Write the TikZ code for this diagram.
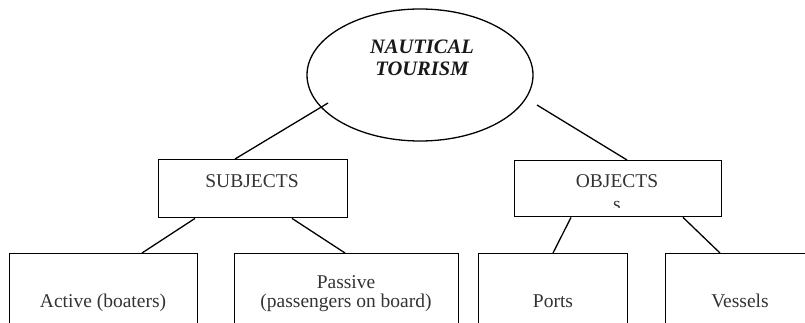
\documentclass[tikz,border=0pt]{standalone}
\usepackage{fontspec}
\setmainfont{Liberation Serif}
\usetikzlibrary{shapes.geometric,calc}
\begin{document}
\begin{tikzpicture}[x=1pt,y=-1pt,
  box/.style={draw=black,line width=1.4pt,rectangle,inner sep=0pt,anchor=north west},
  link/.style={draw=black,line width=1.3pt},
  txt/.style={inner sep=0pt,anchor=base,text=black!80,font=\fontsize{19.5}{22}\selectfont},
  head/.style={inner sep=0pt,anchor=base,text=black!90,font=\fontsize{20.5}{22}\selectfont\bfseries\itshape}]
\useasboundingbox (0,0) rectangle (805,323);
\clip (0,0) rectangle (805,323);
% root ellipse
\node[draw=black,line width=1.3pt,ellipse,minimum width=226pt,minimum height=132pt,inner sep=0pt] (root) at (420,75) {};
\node[head] (rootA) at (422,54) {NAUTICAL};
\node[head] (rootB) at (422,76) {TOURISM};
% second level
\node[box,minimum width=189pt,minimum height=58pt] (subj) at (158,159) {};
\node[txt] (subjT) at (252,187) {SUBJECTS};
\node[box,minimum width=207pt,minimum height=56pt] (obj) at (514,160) {};
\node[txt] (objT) at (617,187) {OBJECTS};
\begin{scope}
  \clip (514,160) rectangle (721,207);
  \node[txt] (objS) at (617,211) {s};
\end{scope}
% third level (boxes run past the lower edge)
\node[box,minimum width=188pt,minimum height=100pt] (act) at (9,253) {};
\node[txt] (actT) at (103,307) {Active (boaters)};
\node[box,minimum width=224pt,minimum height=100pt] (pas) at (234,253) {};
\node[txt] (pasT1) at (346,288) {Passive};
\node[txt] (pasT2) at (346,307) {(passengers on board)};
\node[box,minimum width=149pt,minimum height=100pt] (port) at (478,253) {};
\node[txt] (portT) at (553,307) {Ports};
\node[box,minimum width=160pt,minimum height=100pt] (ves) at (665,253) {};
\node[txt] (vesT) at (740,307) {Vessels};
% connectors
\coordinate (rl) at (328,103);
\coordinate (rr) at (537,105);
\draw[link] (rl) -- ($(subj.north west)+(77,0)$);
\draw[link] (rr) -- ($(obj.north west)+(113,0)$);
\draw[link] ($(subj.south west)+(37,0)$) -- ($(act.north west)+(133,0)$);
\draw[link] ($(subj.south west)+(134,0)$) -- ($(pas.north west)+(111,0)$);
\draw[link] ($(obj.south west)+(57,0)$) -- ($(port.north west)+(75,0)$);
\draw[link] ($(obj.south west)+(169,0)$) -- ($(ves.north west)+(55,0)$);
\end{tikzpicture}
\end{document}
